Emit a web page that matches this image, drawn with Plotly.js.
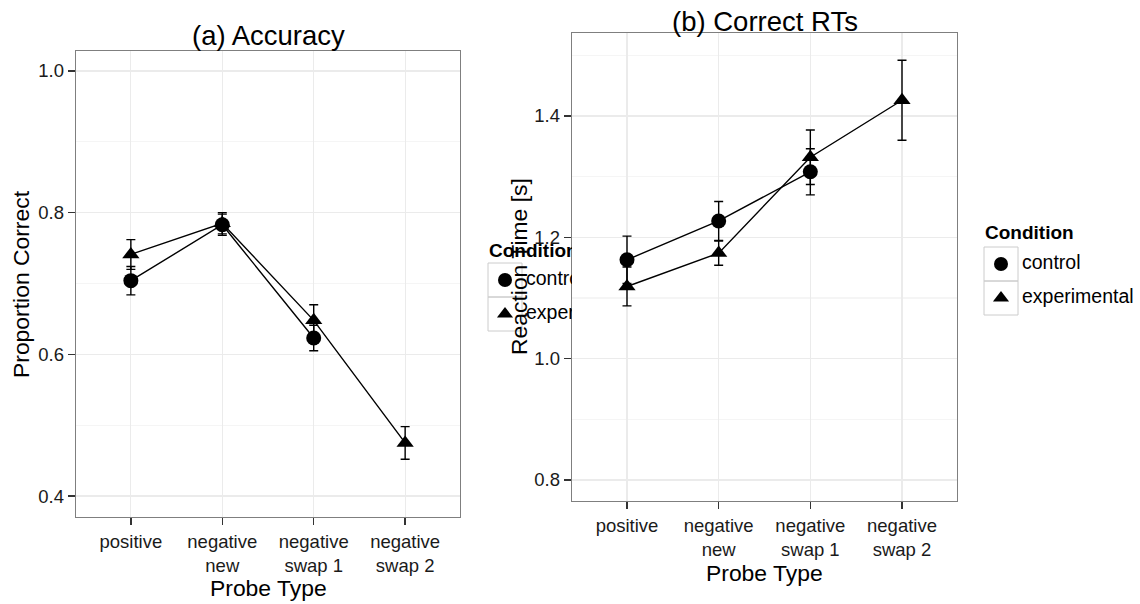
<!DOCTYPE html>
<html>
<head>
<meta charset="utf-8">
<script src="https://cdn.plot.ly/plotly-3.0.1.min.js"></script>
<style>html,body{margin:0;padding:0;background:#fff;}#chart{width:1140px;height:604px;}</style>
</head>
<body>
<div id="chart"></div>
<script>
// ---- data ----
const probeTypes = ['positive', 'negative<br>new', 'negative<br>swap 1', 'negative<br>swap 2'];
const controlTypes = ['positive', 'negative<br>new', 'negative<br>swap 1'];
const conditions = ['control', 'experimental'];

const accControl = [0.704, 0.783, 0.623];
const accControlErr = [0.020, 0.015, 0.018];
const accExp = [0.741, 0.785, 0.648, 0.475];
const accExpErr = [0.021, 0.015, 0.022, 0.023];

const rtControl = [1.163, 1.227, 1.308];
const rtControlErr = [0.039, 0.032, 0.038];
const rtExp = [1.119, 1.174, 1.332, 1.426];
const rtExpErr = [0.032, 0.020, 0.045, 0.066];

const panelTitles = ['(a) Accuracy', '(b) Correct RTs'];
const yTitles = ['Proportion Correct', 'Reaction Time [s]'];
const xTitle = 'Probe Type';
const legendTitle = 'Condition';

// ---- helpers ----
const W = 1140, H = 604;
const FONT = 'Liberation Sans, Arial, Helvetica, sans-serif';
const px = v => v / W;
const py = v => 1 - v / H;

function series(x, y, err, symbol, xa, ya) {
  return {
    type: 'scatter', mode: 'lines+markers', x: x, y: y,
    xaxis: xa, yaxis: ya, showlegend: false, cliponaxis: false,
    line: {color: '#000', width: 1.4},
    marker: {symbol: symbol, size: 15, color: '#000'},
    error_y: {type: 'data', array: err, visible: true, color: '#000', thickness: 1.4, width: 4.5}
  };
}

const traces = [
  series(controlTypes, accControl, accControlErr, 'circle', 'x', 'y'),
  series(probeTypes, accExp, accExpErr, 'triangle-up', 'x', 'y'),
  series(controlTypes, rtControl, rtControlErr, 'circle', 'x2', 'y2'),
  series(probeTypes, rtExp, rtExpErr, 'triangle-up', 'x2', 'y2')
];

// ---- legends (left one is clipped by the right panel, as in the original) ----
const shapes = [];
function addLegend(x0, yTitle, yKey, xa, ya) {
  const key = 34;
  traces.push({
    type: 'scatter', mode: 'text', xaxis: xa, yaxis: ya, showlegend: false, cliponaxis: true,
    x: [x0 + 1], y: [yTitle], text: ['<b>' + legendTitle + '</b>'], textposition: 'middle right',
    textfont: {family: FONT, size: 19, color: '#000'}, hoverinfo: 'skip'
  });
  traces.push({
    type: 'scatter', mode: 'markers', xaxis: xa, yaxis: ya, showlegend: false, cliponaxis: true,
    x: [x0 + key / 2, x0 + key / 2], y: [yKey + key / 2, yKey + key * 1.5],
    marker: {symbol: ['circle', 'triangle-up'], size: 14, color: '#000'}, hoverinfo: 'skip'
  });
  traces.push({
    type: 'scatter', mode: 'text', xaxis: xa, yaxis: ya, showlegend: false, cliponaxis: true,
    x: [x0 + key + 4, x0 + key + 4], y: [yKey + key / 2, yKey + key * 1.5], text: conditions,
    textposition: 'middle right', textfont: {family: FONT, size: 19.5, color: '#000'}, hoverinfo: 'skip'
  });
  for (let i = 0; i < 2; i++) {
    shapes.push({type: 'rect', xref: xa, yref: ya, x0: x0, x1: x0 + key, y0: yKey + i * key, y1: yKey + (i + 1) * key,
      line: {color: '#CCCCCC', width: 1}, fillcolor: 'rgba(0,0,0,0)', layer: 'below'});
  }
}
addLegend(488, 252, 263, 'x3', 'y3');
addLegend(984, 234, 247, 'x4', 'y4');

const baseX = {
  type: 'category', range: [-0.6, 3.6], showgrid: true, gridcolor: '#EBEBEB', gridwidth: 1.2,
  ticks: 'outside', ticklen: 7, tickwidth: 1.3, tickcolor: '#333',
  tickfont: {family: FONT, size: 18.5, color: '#1a1a1a'},
  showline: true, mirror: true, linecolor: '#7F7F7F', linewidth: 1.3, zeroline: false,
  categoryorder: 'array', categoryarray: probeTypes, fixedrange: true
};
const baseY = {
  dtick: 0.2, tick0: 0, tickformat: '.1f', showgrid: true, gridcolor: '#EBEBEB', gridwidth: 1.2,
  minor: {dtick: 0.1, tick0: 0, showgrid: true, gridcolor: '#F5F5F5', gridwidth: 1.2, ticks: ''},
  ticks: 'outside', ticklen: 7, tickwidth: 1.3, tickcolor: '#333',
  tickfont: {family: FONT, size: 18.5, color: '#1a1a1a'},
  showline: true, mirror: true, linecolor: '#7F7F7F', linewidth: 1.3, zeroline: false, fixedrange: true
};
const hidden = {visible: false, showgrid: false, zeroline: false, fixedrange: true};

const ann = (text, x, y, size, opts) => Object.assign({
  text: text, x: px(x), y: py(y), xref: 'paper', yref: 'paper', showarrow: false,
  xanchor: 'center', yanchor: 'middle', font: {family: FONT, size: size, color: '#000'}
}, opts || {});

const layout = {
  width: W, height: H, margin: {l: 0, r: 0, t: 0, b: 0},
  paper_bgcolor: '#fff', plot_bgcolor: 'rgba(0,0,0,0)', showlegend: false,
  xaxis: Object.assign({}, baseX, {domain: [px(76), px(460)], anchor: 'y'}),
  yaxis: Object.assign({}, baseY, {domain: [py(517), py(51)], range: [0.3704, 1.0282], anchor: 'x'}),
  xaxis2: Object.assign({}, baseX, {domain: [px(572), px(957)], anchor: 'y2'}),
  yaxis2: Object.assign({}, baseY, {domain: [py(501), py(33)], range: [0.7654, 1.5368], anchor: 'x2'}),
  xaxis3: Object.assign({}, hidden, {domain: [0, px(572)], range: [0, 572], anchor: 'y3'}),
  yaxis3: Object.assign({}, hidden, {domain: [0, 1], range: [H, 0], anchor: 'x3'}),
  xaxis4: Object.assign({}, hidden, {domain: [0, 1], range: [0, W], anchor: 'y4'}),
  yaxis4: Object.assign({}, hidden, {domain: [0, 1], range: [H, 0], anchor: 'x4'}),
  shapes: shapes,
  annotations: [
    ann(panelTitles[0], 268, 35, 27.5),
    ann(panelTitles[1], 764.5, 22, 27.5),
    ann(yTitles[0], 21, 284, 22.9, {textangle: -90}),
    ann(yTitles[1], 519, 267, 22.9, {textangle: -90}),
    ann(xTitle, 268, 588, 22.9),
    ann(xTitle, 764.5, 573, 22.9)
  ]
};

Plotly.newPlot('chart', traces, layout, {displayModeBar: false, staticPlot: true});
</script>
</body>
</html>
